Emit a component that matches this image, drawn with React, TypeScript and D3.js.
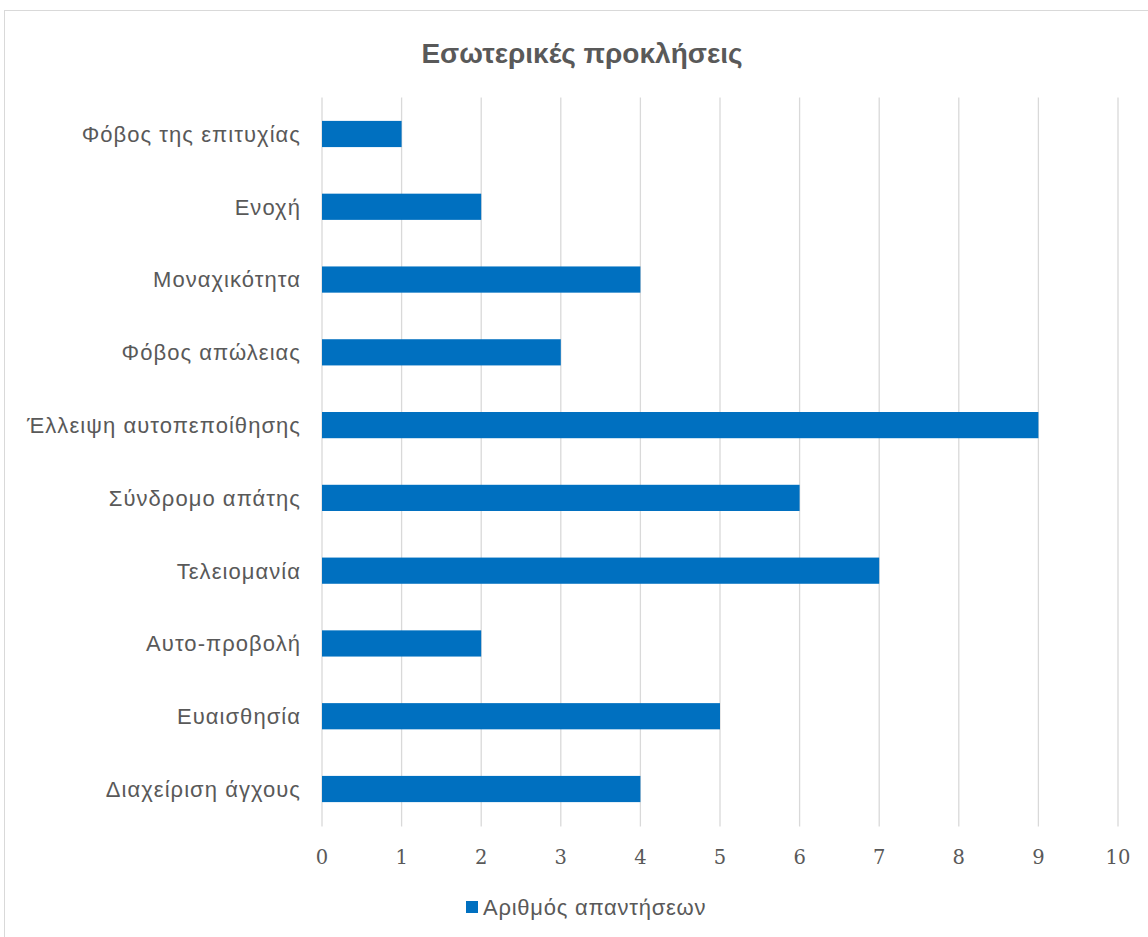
import React from "react";
import * as d3 from "d3";

const categories = [
  "Φόβος της επιτυχίας",
  "Ενοχή",
  "Μοναχικότητα",
  "Φόβος απώλειας",
  "Έλλειψη αυτοπεποίθησης",
  "Σύνδρομο απάτης",
  "Τελειομανία",
  "Αυτο-προβολή",
  "Ευαισθησία",
  "Διαχείριση άγχους",
];
const values = [1, 2, 4, 3, 9, 6, 7, 2, 5, 4];
const xTicks = [0, 1, 2, 3, 4, 5, 6, 7, 8, 9, 10];
const title = "Εσωτερικές προκλήσεις";
const seriesName = "Αριθμός απαντήσεων";

export default function App() {
  const W = 1148, H = 937;
  const left = 322, right = 1118, top = 97.6, bottom = 825.4;
  const x = d3.scaleLinear().domain([0, 10]).range([left, right]);
  const y = d3.scaleBand<string>().domain(categories).range([top, bottom]).paddingInner(0.64).paddingOuter(0.32);
  const grey = "#595959";
  const sans = "'Liberation Sans', Arial, sans-serif";
  return (
    <svg width={W} height={H} style={{ position: "absolute", left: 0, top: 0 }}>
      <rect x={0} y={0} width={W} height={H} fill="#fff" />
      <rect x={4.5} y={10.5} width={W + 10} height={H + 10} fill="#fff" stroke="#d9d9d9" strokeWidth={1} />
      <text x={582} y={63} textAnchor="middle" fontFamily={sans} fontWeight="bold" fontSize={28} fill={grey}>{title}</text>
      {xTicks.map((t) => (
        <g key={t}>
          <line x1={x(t)} x2={x(t)} y1={top} y2={bottom + 1} stroke="#d9d9d9" strokeWidth={1.3} />
          <text x={x(t)} y={864} textAnchor="middle" fontFamily="'DejaVu Serif', serif" fontSize={19.5} fill={grey}>{t}</text>
        </g>
      ))}
      {categories.map((c, i) => (
        <g key={c}>
          <rect x={x(0)} y={y(c)!} width={x(values[i]) - x(0)} height={y.bandwidth()} fill="#0070C0" />
          <text x={301} y={y(c)! + y.bandwidth() / 2} dy="0.36em" textAnchor="end" fontFamily={sans} fontSize={22} letterSpacing={1.05} fill={grey}>{c}</text>
        </g>
      ))}
      <rect x={466} y={901} width={12} height={12} fill="#0070C0" />
      <text x={483} y={907} dy="0.36em" fontFamily={sans} fontSize={22} letterSpacing={0.75} fill={grey}>{seriesName}</text>
    </svg>
  );
}
